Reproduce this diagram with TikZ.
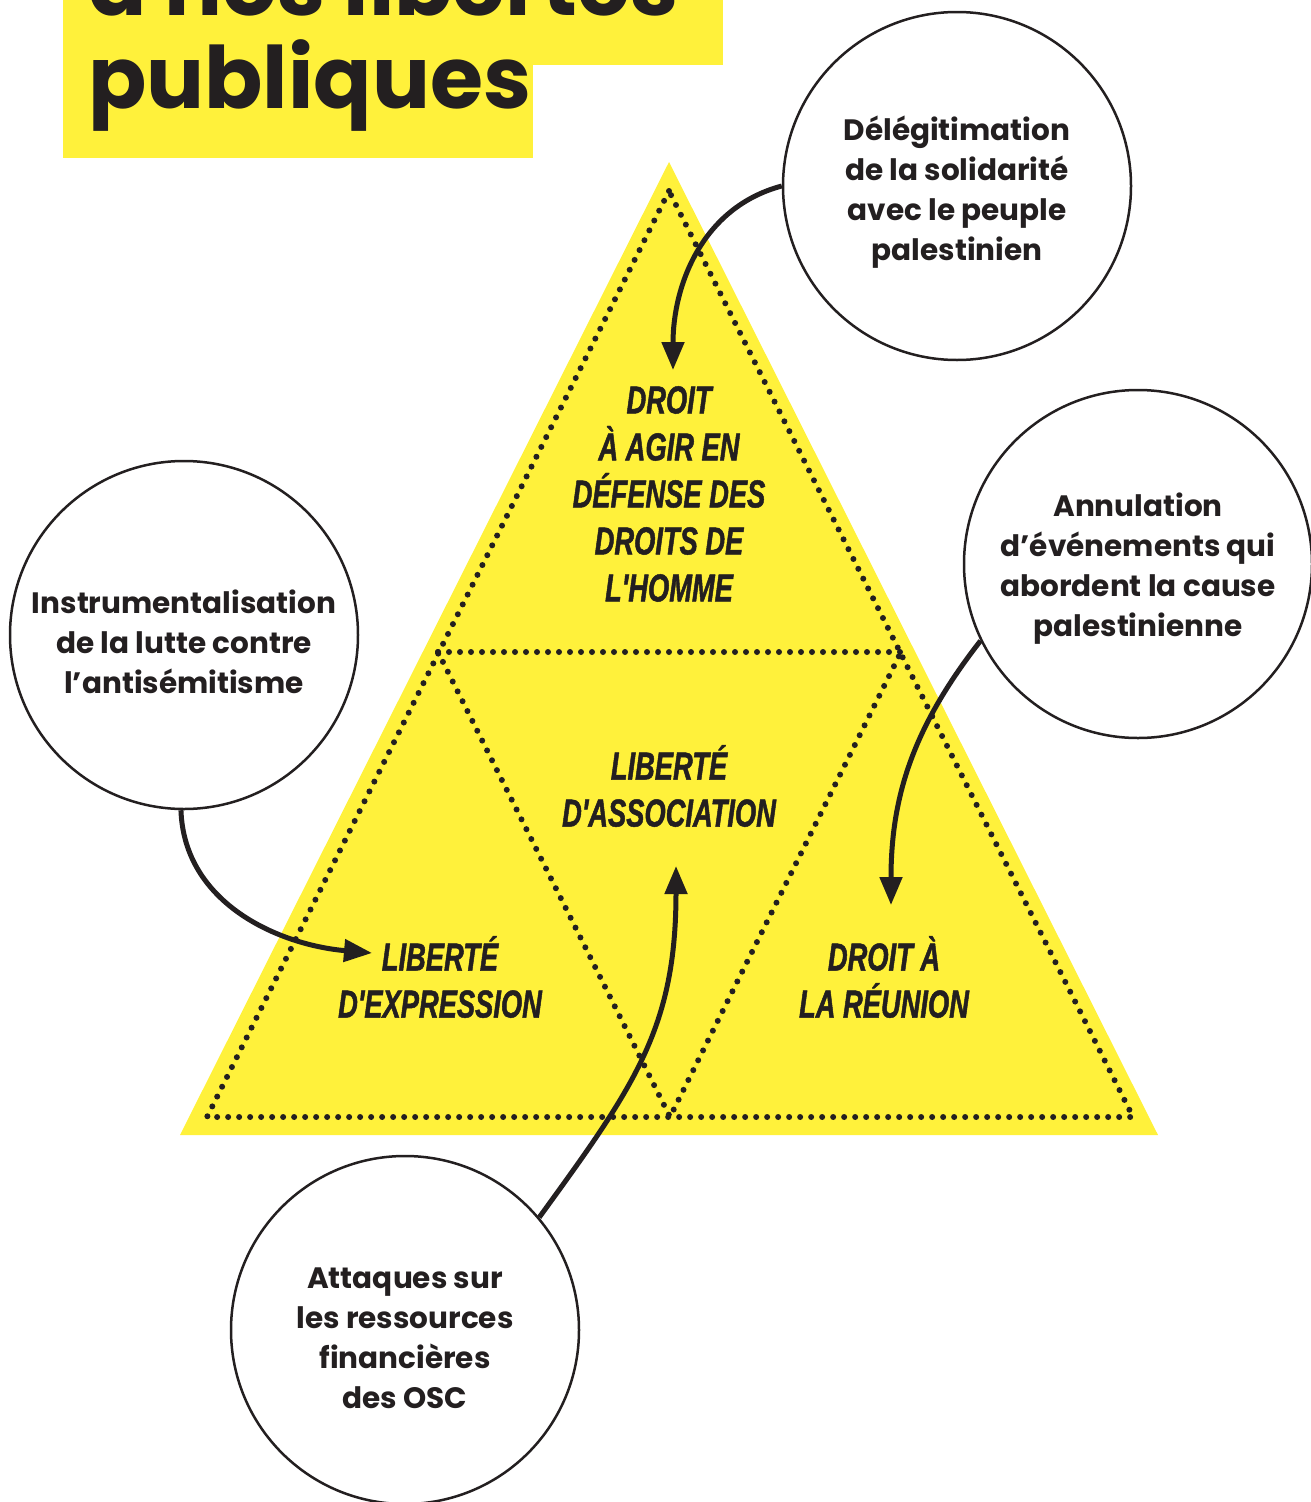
\documentclass[tikz,border=0pt]{standalone}
\usepackage{fontspec}
\usepackage{tikz}
\usetikzlibrary{arrows.meta}
\setmainfont{Poppins}
\newfontfamily\titrefont{Poppins}[UprightFont=* Bold]
\newfontfamily\bullefont{Poppins}[UprightFont=* Bold]
\newfontfamily\zonefont{Liberation Sans}[FakeStretch=0.7,FakeBold=1.2]
\definecolor{jaune}{RGB}{255,241,59}
\definecolor{encre}{RGB}{35,31,32}

\begin{document}
\begin{tikzpicture}[x=1pt,y=1pt,
	bulle/.style={circle, draw=encre, line width=2.5pt, minimum size=348pt, inner sep=0pt},
	bulletexte/.style={align=center, text=encre, font=\bullefont\fontsize{29.5}{40}\selectfont},
	zone/.style={align=center, text=encre, font=\zonefont\bfseries\itshape\fontsize{39}{47}\selectfont},
	pointille/.style={draw=encre, line width=6pt, line cap=round, dash pattern=on 0pt off 11pt},
	fleche/.style={draw=encre, line width=5pt, -{Triangle[length=28pt,width=22pt]}}]
	\useasboundingbox (0,0) rectangle (1311,-1502);
	% titre
	\fill[jaune] (63,30) rectangle (723,-65);
	\fill[jaune] (63,-65) rectangle (533,-158);
	\node[anchor=base west, inner sep=0pt, text=encre, font=\titrefont\fontsize{86}{93}\selectfont] (titre1) at (88,-15) {à nos libertés};
	\node[anchor=base west, inner sep=0pt, text=encre, font=\titrefont\fontsize{86}{93}\selectfont] (titre2) at (88,-108) {publiques};
	% pyramide
	\fill[jaune] (669,-162) -- (180,-1135) -- (1158,-1135) -- cycle;
	\coordinate (haut) at (669,-191);
	\coordinate (bg) at (207,-1117);
	\coordinate (bd) at (1133,-1117);
	\coordinate (mg) at (438,-652);
	\coordinate (md) at (901,-652);
	\coordinate (mb) at (670,-1117);
	\draw[pointille] (haut) -- (bg) -- (bd) -- cycle;
	\draw[pointille] (mg) -- (md);
	\draw[pointille] (mg) -- (mb) -- (md);
	\node[zone] (defense) at (669,-494) {DROIT\\À AGIR EN\\DÉFENSE DES\\DROITS DE\\L'HOMME};
	\node[zone] (assoc) at (669,-786) {LIBERTÉ\\D'ASSOCIATION};
	\node[zone] (expr) at (440,-977) {LIBERTÉ\\D'EXPRESSION};
	\node[zone] (reunion) at (884,-977) {DROIT À\\LA RÉUNION};
	% bulles
	\node[bulle] (deleg) at (957,-186) {};
	\node[bulletexte] (deleg-txt) at (957,-192) {Délégitimation\\de la solidarité\\avec le peuple\\palestinien};
	\node[bulle] (annul) at (1138,-564) {};
	\node[bulletexte] (annul-txt) at (1138,-569) {Annulation\\d’événements qui\\abordent la cause\\palestinienne};
	\node[bulle] (instru) at (184,-635) {};
	\node[bulletexte] (instru-txt) at (184,-642) {Instrumentalisation\\de la lutte contre\\l’antisémitisme};
	\node[bulle] (attaq) at (405,-1330) {};
	\node[bulletexte] (attaq-txt) at (405,-1338) {Attaques sur\\les ressources\\financières\\des OSC};
	% fleches
	\coordinate (versdefense) at (673,-370);
	\coordinate (versexpr) at (372,-953);
	\coordinate (versassoc) at (676,-866);
	\coordinate (versreunion) at (891,-905);
	\draw[fleche] (deleg.west) to[out=195,in=90] (versdefense);
	\draw[fleche] (instru.-91) to[out=-88,in=175] (versexpr);
	\draw[fleche] (attaq.40) to[out=54,in=-90,looseness=1.1] (versassoc);
	\draw[fleche] (annul.206) to[out=232,in=90] (versreunion);
\end{tikzpicture}
\end{document}
